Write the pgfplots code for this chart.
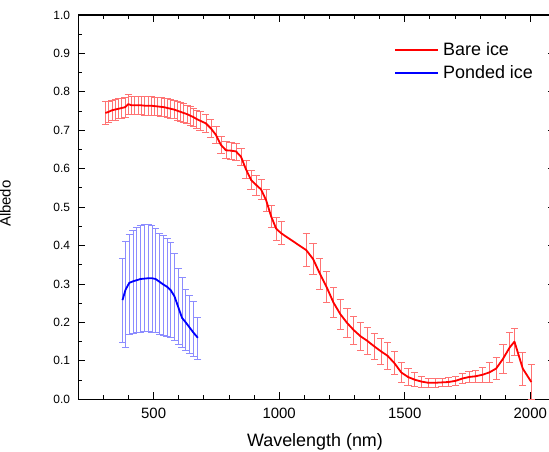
\documentclass[border=0pt]{standalone}
\usepackage{fontspec}
\setmainfont{Liberation Sans}
\usepackage{pgfplots}
\usepackage{pgfplotstable}
\pgfplotsset{compat=1.18}

% bare ice: wavelength, mean albedo, std
\pgfplotstableread{
x y e
308 0.745 0.030
321 0.748 0.028
334 0.752 0.027
347 0.754 0.027
360 0.756 0.026
373 0.758 0.026
386 0.760 0.026
399 0.768 0.026
412 0.765 0.024
425 0.765 0.024
438 0.765 0.024
451 0.765 0.024
464 0.764 0.024
477 0.764 0.024
490 0.764 0.024
503 0.763 0.024
516 0.762 0.024
529 0.761 0.024
542 0.760 0.024
555 0.758 0.024
568 0.756 0.024
581 0.754 0.024
594 0.751 0.024
607 0.748 0.024
620 0.745 0.024
633 0.742 0.024
646 0.738 0.024
659 0.734 0.024
672 0.729 0.024
685 0.725 0.024
708 0.718 0.024
728 0.705 0.024
748 0.688 0.023
768 0.662 0.023
788 0.648 0.022
808 0.647 0.022
828 0.645 0.022
848 0.631 0.023
868 0.598 0.024
888 0.571 0.025
908 0.558 0.026
928 0.546 0.027
948 0.518 0.028
968 0.476 0.029
988 0.444 0.030
1008 0.432 0.030
1108 0.388 0.043
1135 0.365 0.041
1162 0.327 0.040
1189 0.292 0.040
1216 0.252 0.039
1243 0.222 0.039
1270 0.199 0.038
1297 0.180 0.037
1324 0.164 0.036
1351 0.152 0.035
1378 0.138 0.034
1405 0.125 0.034
1432 0.113 0.034
1459 0.094 0.030
1486 0.070 0.025
1513 0.058 0.022
1540 0.051 0.018
1567 0.046 0.015
1594 0.043 0.012
1621 0.043 0.011
1648 0.044 0.011
1675 0.045 0.011
1702 0.048 0.012
1729 0.054 0.013
1756 0.058 0.014
1783 0.060 0.016
1810 0.064 0.020
1837 0.070 0.025
1864 0.080 0.028
1891 0.105 0.038
1918 0.135 0.040
1937 0.150 0.035
1970 0.080 0.043
2004 0.045 0.045
}\bareice

% ponded ice: wavelength, mean albedo, error up, error down
\pgfplotstableread{
x y ep em
376 0.258 0.110 0.111
388 0.285 0.127 0.149
403 0.303 0.127 0.134
418 0.307 0.133 0.135
433 0.310 0.137 0.136
448 0.313 0.139 0.138
463 0.314 0.140 0.138
478 0.315 0.139 0.139
493 0.315 0.138 0.140
508 0.313 0.131 0.140
523 0.306 0.127 0.137
538 0.299 0.127 0.133
553 0.293 0.127 0.130
568 0.284 0.124 0.124
583 0.268 0.112 0.115
598 0.240 0.100 0.097
613 0.212 0.106 0.077
628 0.200 0.087 0.073
643 0.187 0.084 0.068
658 0.174 0.081 0.063
676 0.160 0.054 0.057
}\pondedice

\begin{document}
\begin{tikzpicture}
\begin{axis}[
  scale only axis,
  width=477.1bp, height=384.3bp,
  xmin=200, xmax=2100, ymin=0, ymax=1,
  xtick={500,1000,1500,2000},
  minor xtick={300,400,...,2000},
  ytick={0,0.1,0.2,0.3,0.4,0.5,0.6,0.7,0.8,0.9,1},
  minor y tick num=1,
  tick align=inside,
  major tick length=7bp, minor tick length=4bp,
  axis line style={line width=1.1bp},
  every tick/.style={black, line width=0.9bp},
  /pgf/number format/assume math mode=true,
  scaled ticks=false,
  xticklabel style={font=\fontsize{15}{17}\selectfont, inner sep=0pt, yshift=-9bp,
    /pgf/number format/1000 sep={}},
  yticklabel style={font=\fontsize{12}{14}\selectfont, inner sep=0pt, xshift=-8bp,
    /pgf/number format/.cd, fixed, fixed zerofill, precision=1},
  xlabel={Wavelength (nm)},
  ylabel={Albedo},
  xlabel style={font=\fontsize{18}{20}\selectfont, at={(axis description cs:0.4961,-0.1241)}, anchor=base},
  ylabel style={font=\fontsize{15}{17}\selectfont, at={(axis description cs:-0.1417,0.509)}, anchor=base, rotate=0},
  legend style={at={(axis description cs:0.6623,0.941)}, anchor=north west, draw=none, fill=none,
    font=\fontsize{18}{21}\selectfont, inner sep=0pt, nodes={inner sep=4.5bp}},
  legend cell align=left,
  legend image code/.code={\draw[#1] (0bp,0bp) -- (42.4bp,0bp);},
]

\addplot[draw=none, forget plot,
  error bars/.cd, y dir=both, y explicit,
  error bar style={draw=red!55, line width=0.7bp},
  error mark options={rotate=90, draw=red!55, mark size=3.6bp, line width=0.7bp}]
  table[x=x, y=y, y error=e] {\bareice};
\addplot[red, line width=1.8bp, line join=round] table[x=x, y=y] {\bareice};
\addlegendentry{Bare ice}

\addplot[draw=none, forget plot,
  error bars/.cd, y dir=both, y explicit,
  error bar style={draw=blue!45, line width=0.7bp},
  error mark options={rotate=90, draw=blue!45, mark size=3.6bp, line width=0.7bp}]
  table[x=x, y=y, y error plus=ep, y error minus=em] {\pondedice};
\addplot[blue, line width=1.8bp, line join=round] table[x=x, y=y] {\pondedice};
\addlegendentry{Ponded ice}

\end{axis}
\pgfresetboundingbox
\path ([xshift=-78.3bp, yshift=-52.7bp]current axis.south west)
  rectangle ([xshift=-6.4bp, yshift=15bp]current axis.north east);
\end{tikzpicture}
\end{document}
